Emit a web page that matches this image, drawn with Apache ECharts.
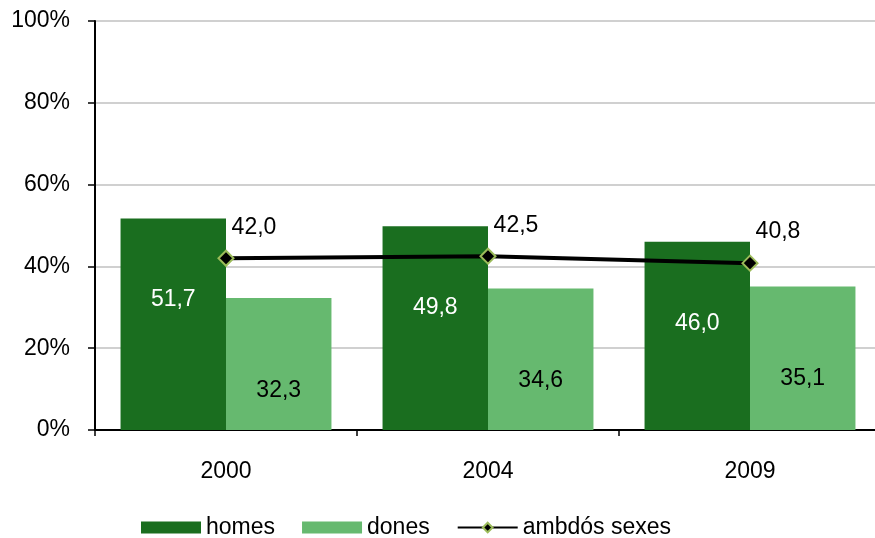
<!DOCTYPE html>
<html><head><meta charset="utf-8">
<script src="https://cdn.jsdelivr.net/npm/echarts@6/dist/echarts.min.js"></script>
<style>html,body{margin:0;padding:0;background:#fff;overflow:hidden;width:875px;height:538px}#c{width:881px;height:538px}</style>
</head><body><div id="c"></div>
<script>
const categories = ['2000', '2004', '2009'];
const homes = [51.7, 49.8, 46.0];
const dones = [32.3, 34.6, 35.1];
const ambdos = [42.0, 42.5, 40.8];
const yTicks = [0, 20, 40, 60, 80, 100];

const fmt = v => v.toFixed(1).replace('.', ',');
const FONT = 'Liberation Sans';
const FS = 23;
const chart = echarts.init(document.getElementById('c'), null, {renderer: 'canvas'});
chart.setOption({
  animation: false,
  textStyle: {fontFamily: FONT},
  grid: {left: 95, right: 0, top: 21, bottom: 108},
  legend: {
    left: 141, top: 516, padding: 0, itemGap: 27, itemWidth: 60, itemHeight: 12,
    textStyle: {fontFamily: FONT, fontSize: FS, color: '#000'},
    data: [{name: 'homes', icon: 'rect'}, {name: 'dones', icon: 'rect'}, {name: 'ambdós sexes'}]
  },
  xAxis: {
    type: 'category', data: categories,
    axisLine: {lineStyle: {color: '#000', width: 2}},
    axisTick: {show: true, length: 6, lineStyle: {color: '#000', width: 1.5}},
    axisLabel: {fontFamily: FONT, fontSize: FS, color: '#000', margin: 30}
  },
  yAxis: {
    type: 'value', min: yTicks[0], max: yTicks[yTicks.length - 1], interval: 20,
    axisLine: {show: true, lineStyle: {color: '#000', width: 2}},
    axisTick: {show: true, length: 7, lineStyle: {color: '#000', width: 1.5}},
    axisLabel: {fontFamily: FONT, fontSize: FS, color: '#000', margin: 25, formatter: '{value}%'},
    splitLine: {lineStyle: {color: '#c0c0c0', width: 1.5}}
  },
  series: [
    {
      name: 'homes', type: 'bar', data: homes, barGap: '0%', barCategoryGap: '19.5%',
      itemStyle: {color: '#1a6e1f'},
      label: {show: true, position: 'insideTop', distance: 70, color: '#fff', fontFamily: FONT, fontSize: FS,
        formatter: p => fmt(p.value)}
    },
    {
      name: 'dones', type: 'bar', data: dones, barGap: '0%', barCategoryGap: '19.5%',
      itemStyle: {color: '#66b96f'},
      label: {show: true, position: 'insideTop', distance: 81, color: '#000', fontFamily: FONT, fontSize: FS,
        formatter: p => fmt(p.value)}
    },
    {
      name: 'ambdós sexes', type: 'line', data: ambdos, z: 5,
      symbol: 'diamond', symbolSize: 15,
      lineStyle: {color: '#000', width: 4},
      itemStyle: {color: '#000', borderColor: '#9bbb59', borderWidth: 2},
      label: {show: true, position: 'top', distance: 5, offset: [28, -6], color: '#000', fontFamily: FONT, fontSize: FS,
        formatter: p => fmt(p.value)}
    }
  ]
});
</script></body></html>
